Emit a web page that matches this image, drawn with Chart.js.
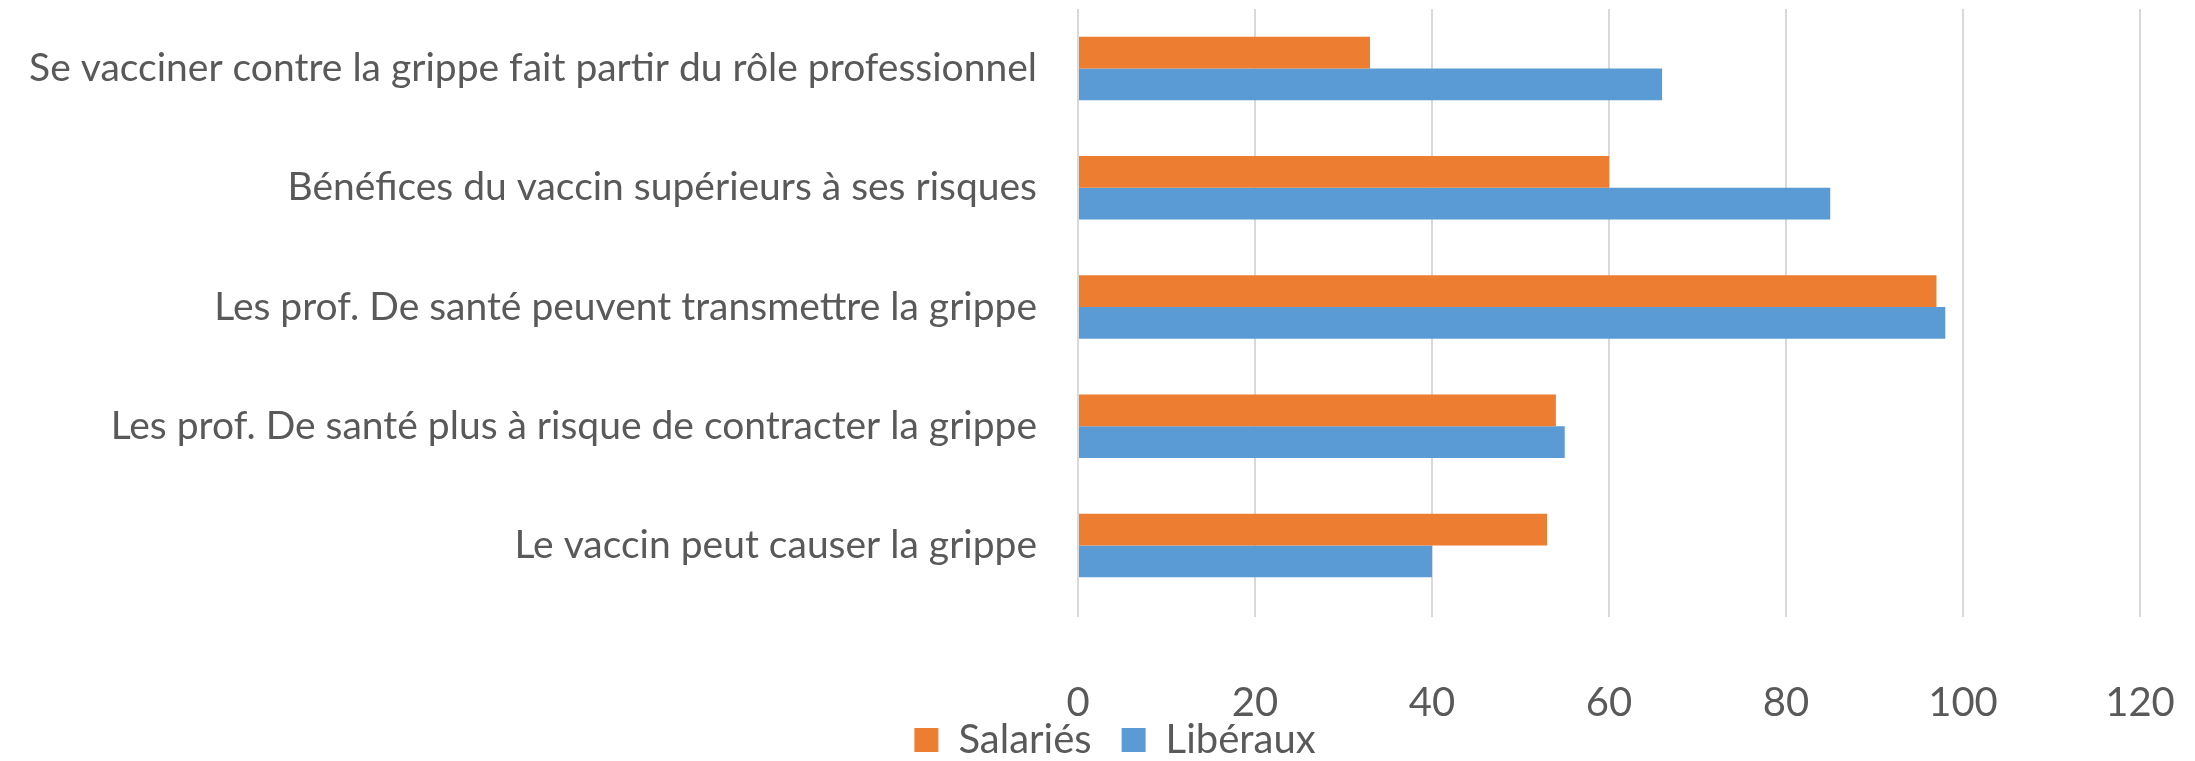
<!DOCTYPE html>
<html>
<head>
<meta charset="utf-8">
<script src="https://cdn.jsdelivr.net/npm/chart.js@4"></script>
<style>
  html, body { margin: 0; padding: 0; background: #fff; }
  #wrap { width: 2195px; height: 761px; }
</style>
</head>
<body>
<div id="wrap"><canvas id="chart-bar"></canvas></div>
<script>
// data
const categories = [
    "Se vacciner contre la grippe fait partir du rôle professionnel",
    "Bénéfices du vaccin supérieurs à ses risques",
    "Les prof. De santé peuvent transmettre la grippe",
    "Les prof. De santé plus à risque de contracter la grippe",
    "Le vaccin peut causer la grippe"
];
const salaries = [33, 60, 97, 54, 53];
const liberaux = [66, 85, 98, 55, 40];
const xTicks = [0, 20, 40, 60, 80, 100, 120];

const textColor = '#595959';
const fontFamily = 'Lato, "Open Sans", sans-serif';

Chart.defaults.font.family = fontFamily;
Chart.defaults.color = textColor;

// move the legend to where the original has it
const legendShift = {
    id: 'legendShift',
    afterLayout(chart) {
        const lg = chart.legend;
        lg.left += 45;
        lg.right += 45;
        lg.top -= 37;
        lg.bottom -= 37;
    }
};

const chartbar = document.getElementById('chart-bar');

new Chart(chartbar, {
    type: 'bar',
    data: {
        labels: categories,
        datasets: [{
            label: 'Salariés',
            data: salaries,
            backgroundColor: '#ED7D31',
            categoryPercentage: 0.533,
            barPercentage: 1.0
        }, {
            label: 'Libéraux',
            data: liberaux,
            backgroundColor: '#5B9BD5',
            categoryPercentage: 0.533,
            barPercentage: 1.0
        }]
    },

    options: {
        indexAxis: 'y',
        responsive: true,
        maintainAspectRatio: false,
        animation: false,
        layout: {
            padding: { top: 9, right: 55, left: 0, bottom: -46 }
        },
        scales: {
            x: {
                min: xTicks[0],
                max: xTicks[xTicks.length - 1],
                afterBuildTicks: (scale) => {
                    scale.ticks = xTicks.map(v => ({ value: v }));
                },
                afterFit: (scale) => {
                    scale.height = 122;
                    scale.paddingLeft = 0;
                    scale.paddingRight = 0;
                },
                grid: {
                    color: '#D9D9D9',
                    lineWidth: 2,
                    drawTicks: true,
                    tickLength: 12
                },
                border: { display: false },
                ticks: {
                    padding: 62,
                    color: textColor,
                    font: { size: 40 }
                }
            },
            y: {
                afterFit: (scale) => {
                    scale.width = 1078;
                    scale.paddingTop = 0;
                    scale.paddingBottom = 0;
                },
                grid: { display: false, drawTicks: false },
                border: { display: false },
                ticks: {
                    padding: 41,
                    color: textColor,
                    font: { size: 39 }
                }
            }
        },
        plugins: {
            legend: {
                position: 'bottom',
                labels: {
                    boxWidth: 24,
                    boxHeight: 24,
                    padding: 30,
                    color: textColor,
                    font: { size: 40 }
                }
            },
            tooltip: { enabled: false }
        }
    },
    plugins: [legendShift]
});
</script>
</body>
</html>
